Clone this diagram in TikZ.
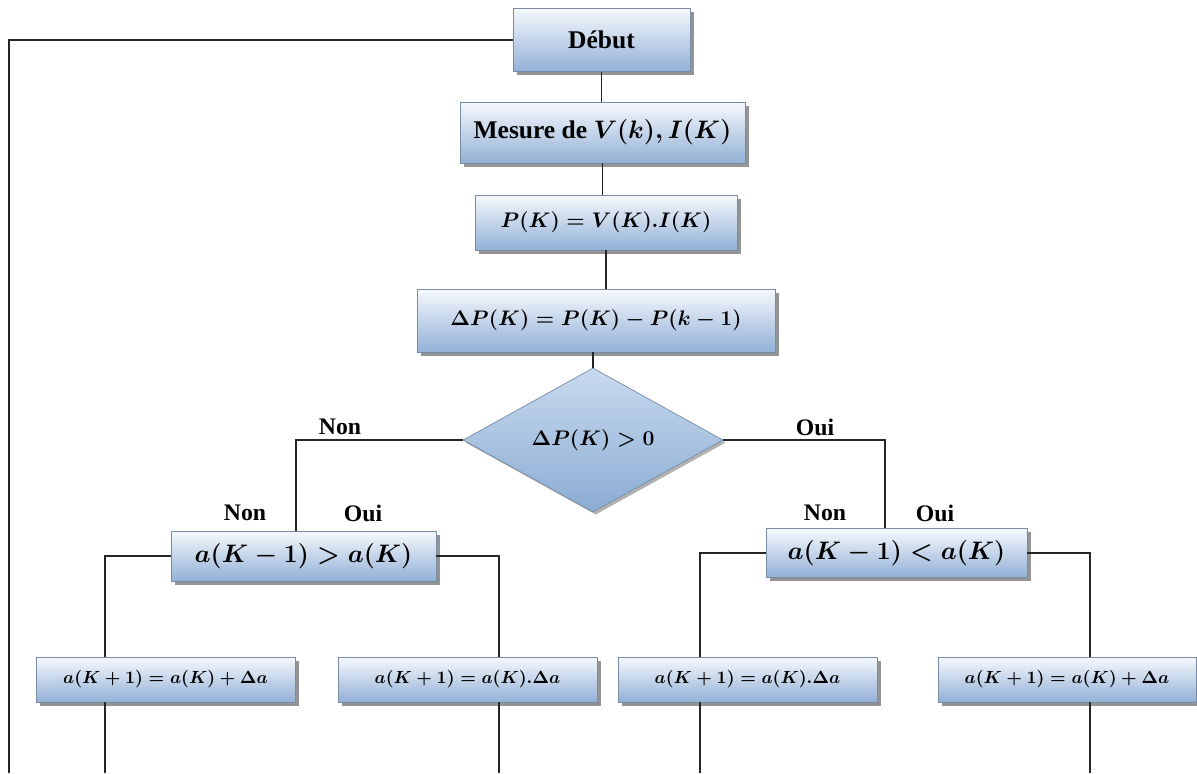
\documentclass[tikz,border=0pt]{standalone}
\usepackage{amsmath, amssymb}
\usepackage{fontspec}
\setmainfont{Liberation Serif}
\usepackage{tikz}
\usetikzlibrary{positioning,shapes.geometric,shadows}
\usepackage{xcolor}

\definecolor{boxtop}{RGB}{246,249,253}
\definecolor{boxbot}{RGB}{146,176,214}
\definecolor{dmdtop}{RGB}{200,218,238}
\definecolor{dmdbot}{RGB}{140,172,212}
\definecolor{boxedge}{RGB}{120,140,165}

\begin{document}
\begin{tikzpicture}[
  every node/.style={font=\bfseries\boldmath},
  wire/.style={line width=0.8pt, black!85},
  blk/.style={draw=boxedge, thin, top color=boxtop, bottom color=boxbot,
    drop shadow={shadow xshift=2pt, shadow yshift=-2pt, fill=black!70, opacity=.6},
    inner sep=2pt, font=\fontsize{14.5}{16}\selectfont\bfseries\boldmath},
  blkm/.style={blk, font=\fontsize{13}{15}\selectfont\bfseries\boldmath},
  blksm/.style={blk, minimum width=5.18cm, minimum height=0.9cm, font=\fontsize{10}{12}\selectfont\bfseries\boldmath},
  test/.style={diamond, draw=boxedge, thin, top color=dmdtop, bottom color=dmdbot,
    drop shadow={shadow xshift=1.5pt, shadow yshift=-1.5pt, fill=black!60, opacity=.5},
    minimum width=5.2cm, minimum height=2.28cm, inner sep=0pt, font=\fontsize{13}{15}\selectfont\bfseries\boldmath},
  lbl/.style={font=\fontsize{13.5}{15}\selectfont\bfseries},
]
\useasboundingbox (0,0) rectangle (23.94,-15.46);

% ── chaine principale ──
\node[blk, minimum width=3.54cm, minimum height=1.26cm] (debut) at (12.03,-0.80) {Début};
\node[blk, minimum width=5.70cm, minimum height=1.22cm] (mesure) at (12.05,-2.65) {Mesure de $V(k),I(K)$};
\node[blkm, minimum width=5.24cm, minimum height=1.10cm] (pk) at (12.12,-4.45) {$P(K)=V(K).I(K)$};
\node[blkm, minimum width=7.16cm, minimum height=1.26cm, font=\fontsize{12.4}{14}\selectfont\bfseries\boldmath] (dpk) at (11.92,-6.41) {$\Delta P(K)=P(K)-P(k-1)$};
\node[test] (dtest) at (11.86,-8.80) {$\Delta P(K)>0$};

\coordinate (retour) at (0.18,-15.46);

\draw[wire] (debut.south) -- (debut.south |- mesure.north);
\draw[wire] (mesure.south) -- (mesure.south |- pk.north);
\draw[wire] (pk.south) -- (pk.south |- dpk.north);
\draw[wire] (dpk.south -| dtest.north) -- (dtest.north);
\draw[wire] (debut.west) -| (retour);

% ── comparaisons ──
\node[blkm, minimum width=5.30cm, minimum height=1.0cm, font=\fontsize{13.7}{15}\selectfont\bfseries\boldmath] (cmpL) at (6.07,-11.12) {$a(K-1)>a(K)$};
\node[blkm, minimum width=5.22cm, minimum height=0.98cm, font=\fontsize{13.7}{15}\selectfont\bfseries\boldmath] (cmpR) at (17.93,-11.06) {$a(K-1)<a(K)$};

\draw[wire] (dtest.west) -| ([xshift=-0.15cm]cmpL.north);
\draw[wire] (dtest.east) -| ([xshift=-0.23cm]cmpR.north);

\node[lbl] (non1) at (6.80,-8.54) {Non};
\node[lbl] (oui1) at (16.30,-8.54) {Oui};
\node[lbl] (nonL) at (4.90,-10.26) {Non};
\node[lbl] (ouiL) at (7.26,-10.26) {Oui};
\node[lbl] (nonR) at (16.50,-10.26) {Non};
\node[lbl] (ouiR) at (18.70,-10.26) {Oui};

% ── mises a jour de a ──
\node[blksm] (b1) at (3.31,-13.59) {$a(K+1)=a(K)+\Delta a$};
\node[blksm] (b2) at (9.35,-13.59) {$a(K+1)=a(K).\Delta a$};
\node[blksm] (b3) at (14.95,-13.59) {$a(K+1)=a(K).\Delta a$};
\node[blksm, minimum width=5.16cm] (b4) at (21.34,-13.59) {$a(K+1)=a(K)+\Delta a$};

\draw[wire] (cmpL.west) -| ([xshift=-1.21cm]b1.north);
\draw[wire] (cmpL.east) -| ([xshift=0.63cm]b2.north);
\draw[wire] (cmpR.west) -| ([xshift=-0.95cm]b3.north);
\draw[wire] (cmpR.east) -| ([xshift=0.46cm]b4.north);

\draw[wire] ([xshift=-1.21cm]b1.south) -- ([xshift=-1.21cm]b1.south |- retour);
\draw[wire] ([xshift=0.63cm]b2.south) -- ([xshift=0.63cm]b2.south |- retour);
\draw[wire] ([xshift=-0.95cm]b3.south) -- ([xshift=-0.95cm]b3.south |- retour);
\draw[wire] ([xshift=0.46cm]b4.south) -- ([xshift=0.46cm]b4.south |- retour);

\end{tikzpicture}
\end{document}
